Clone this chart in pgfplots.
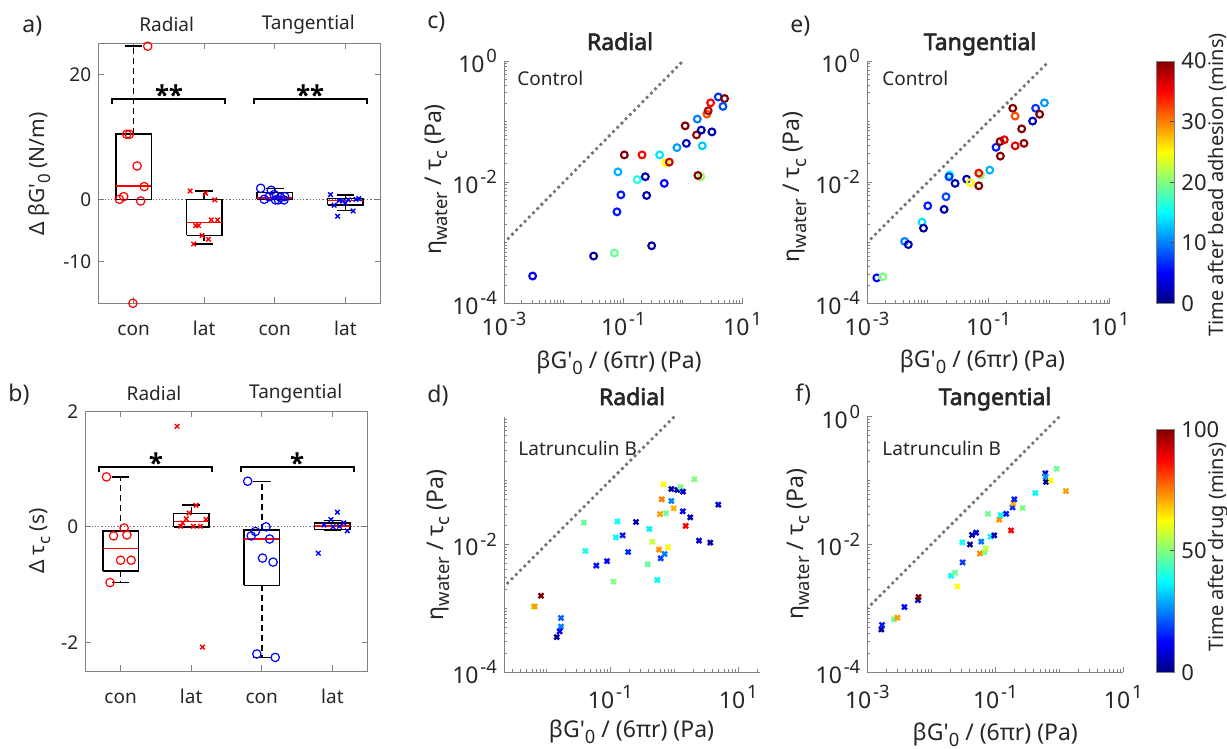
\documentclass[border=0pt]{standalone}
\usepackage{pgfplots}
\pgfplotsset{compat=1.18}
\usepackage{pgfplotstable}
\usepackage{fontspec}
\setmainfont{Noto Sans}[BoldFont={Noto Sans}, BoldFeatures={FakeBold=2.5}]
\newcommand{\fs}[1]{\fontsize{#1}{#1}\selectfont}
\newcommand{\sub}[1]{\raisebox{-0.5ex}{\scalebox{0.8}{#1}}}
\newcommand{\sps}[1]{\hspace{0.08em}\raisebox{0.8ex}{\scalebox{0.8}{#1}}}
\definecolor{axgray}{RGB}{130,130,130}
\definecolor{txt}{RGB}{38,38,38}
\definecolor{pblue}{RGB}{0,0,255}
\definecolor{pred}{RGB}{255,0,0}

\newcommand{\bxbox}[5]{%
 \addplot[black, line width=0.7pt, line join=miter] coordinates {(#1,#3) (#2,#3) (#2,#5) (#1,#5) (#1,#3)};
 \addplot[pred, line width=0.7pt] coordinates {(#1,#4) (#2,#4)};}
\newcommand{\bxwh}[5]{%
 \addplot[black, line width=0.7pt, dash pattern=on 3pt off 2pt] coordinates {(#1,#4) (#1,#5)};
 \addplot[black, line width=0.7pt] coordinates {(#2,#5) (#3,#5)};}

\pgfplotsset{
  boxax/.style={scale only axis, anchor=south west, width=141.2pt, height=130pt,
    xmin=0.5, xmax=4.5, xtick={1,2,3,4}, xticklabels={con,lat,con,lat},
    axis line style={axgray, line width=0.5pt},
    tick style={axgray, line width=0.5pt}, major tick length=3pt, tick align=inside,
    ticklabel style={font=\fs{9.5}, text=txt},
    xticklabel style={anchor=base, yshift=-16pt},
    ylabel style={font=\fs{10.5}, text=txt, anchor=base},
    clip=false},
  logax/.style={scale only axis, anchor=south west,
    axis lines*=left, axis line style={axgray, line width=0.5pt},
    tick style={axgray, line width=0.5pt}, major tick length=2.5pt, minor tick length=1.5pt, tick align=inside,
    ticklabel style={font=\fs{11.5}, text=txt},
    xticklabel style={anchor=base, yshift=-15.85pt},
    xlabel style={font=\fs{11.5}, text=txt, anchor=base},
    ylabel style={font=\fs{11.5}, text=txt, anchor=base},
    xlabel={βG\textquotesingle\sub{0} / (6πr) (Pa)},
    ylabel={η\sub{water} / τ\sub{c} (Pa)},
    colormap/jet,
    xtick={0.001,0.1,10}, xticklabels={10\sps{-3},10\sps{-1},10\sps{1}},
    ytick={0.0001,0.01,1}, yticklabels={10\sps{-4},10\sps{-2},10\sps{0}},
    minor ytick={0.0002,0.0003,0.0004,0.0005,0.0006,0.0007,0.0008,0.0009,0.001,0.002,0.003,0.004,0.005,0.006,0.007,0.008,0.009,0.02,0.03,0.04,0.05,0.06,0.07,0.08,0.09,0.1,0.2,0.3,0.4,0.5,0.6,0.7,0.8,0.9},
    ymin=0.0001, ymax=1},
  minorx/.style={minor xtick={0.002,0.003,0.004,0.005,0.006,0.007,0.008,0.009,0.01,0.02,0.03,0.04,0.05,0.06,0.07,0.08,0.09,0.2,0.3,0.4,0.5,0.6,0.7,0.8,0.9,1,2,3,4,5,6,7,8,9}},
  idline/.style={black!55, line width=1.9pt, line cap=round, dash pattern=on 0pt off 3pt},
  scatc/.style={scatter, only marks, mark=o, mark size=1.7pt, line width=1.05pt, point meta=explicit, scatter/use mapped color={draw=mapped color}},
  scatx/.style={scatter, only marks, mark=x, mark size=1.7pt, line width=1.2pt, point meta=explicit, scatter/use mapped color={draw=mapped color}},
  rc/.style={only marks, mark=o, mark size=2.1pt, line width=0.6pt, draw=pred},
  rx/.style={only marks, mark=x, mark size=1.6pt, line width=0.7pt, draw=pred},
  bc/.style={only marks, mark=o, mark size=2.1pt, line width=0.6pt, draw=pblue},
  bxm/.style={only marks, mark=x, mark size=1.6pt, line width=0.7pt, draw=pblue},
}

\pgfplotstableread{
x y c
0.00302 0.000282 5
0.0318 0.000603 1
0.0708 0.000676 19
0.299 0.000891 1
0.0783 0.00324 6
0.0912 0.00617 6
0.246 0.00603 2
0.0813 0.0148 12
0.172 0.0110 16
0.234 0.0123 2
0.486 0.00955 5
0.104 0.0282 40
0.206 0.0282 35
0.406 0.0282 14
0.513 0.0209 25
0.590 0.0214 37
0.794 0.0372 11
1.14 0.0437 3
1.09 0.0851 40
1.74 0.110 10
1.69 0.0603 39
2.03 0.0724 2
3.06 0.0676 2
2.11 0.0398 13
2.00 0.0123 21
1.78 0.0129 40
2.52 0.133 32
2.65 0.151 38
2.91 0.204 35
3.91 0.255 7
4.99 0.240 40
4.68 0.178 8
}\datac

\pgfplotstableread{
x y c
0.00631 0.00107 55
0.00659 0.00107 72
0.00828 0.00158 100
0.0170 0.000708 22
0.0170 0.000519 25
0.0162 0.000437 12
0.0146 0.000355 3
0.0385 0.0220 47
0.0408 0.00794 40
0.0607 0.00468 14
0.0891 0.00550 12
0.112 0.00263 50
0.122 0.0129 37
0.129 0.0229 38
0.156 0.0139 15
0.190 0.00764 17
0.253 0.0225 5
0.385 0.00490 47
0.408 0.0175 36
0.455 0.0110 57
0.545 0.00279 37
0.578 0.00832 73
0.614 0.00608 18
0.708 0.00710 25
0.600 0.0300 72
0.637 0.0509 75
0.676 0.0873 63
0.743 0.0308 48
0.800 0.00904 63
0.902 0.0480 25
0.902 0.0738 4
0.979 0.0368 70
1.12 0.0713 5
1.26 0.0794 50
1.37 0.0671 8
1.36 0.0331 12
1.78 0.0266 5
1.51 0.0195 88
2.06 0.105 50
2.44 0.0115 8
3.66 0.0107 3
4.89 0.0420 7
}\datad

\pgfplotstableread{
x y c
0.00145 0.000263 5
0.00182 0.000275 20
0.00417 0.00105 10
0.00479 0.000933 2
0.00804 0.00219 14
0.00851 0.00174 1
0.0100 0.00407 6
0.0186 0.00355 2
0.0200 0.00575 8
0.0229 0.0132 15
0.0224 0.0123 7
0.0282 0.00955 2
0.0437 0.0112 2
0.0501 0.00977 25
0.0741 0.0132 20
0.0692 0.0141 35
0.0692 0.00871 40
0.105 0.0158 12
0.133 0.0376 6
0.155 0.0468 40
0.182 0.0501 36
0.157 0.0269 40
0.251 0.166 40
0.275 0.123 32
0.275 0.0398 36
0.352 0.0759 40
0.384 0.0437 39
0.533 0.102 3
0.597 0.166 7
0.695 0.132 40
0.832 0.204 11
}\datae

\pgfplotstableread{
x y c
0.00166 0.000468 3
0.00170 0.000550 15
0.00261 0.000676 48
0.00295 0.000716 72
0.00380 0.00105 12
0.00617 0.00135 5
0.00631 0.00151 100
0.0204 0.00324 38
0.0234 0.00363 48
0.0255 0.00221 62
0.0309 0.00525 18
0.0305 0.0108 38
0.0402 0.0100 3
0.0432 0.0141 4
0.0501 0.0153 10
0.0603 0.0111 24
0.0575 0.00724 74
0.0681 0.00764 50
0.0708 0.00871 57
0.0845 0.0133 36
0.0964 0.0139 5
0.0767 0.0302 48
0.115 0.0245 73
0.121 0.0288 37
0.148 0.0302 15
0.176 0.0166 88
0.186 0.0380 17
0.191 0.0441 70
0.198 0.0509 15
0.267 0.0372 50
0.422 0.0640 37
0.604 0.130 8
0.611 0.115 28
0.619 0.0955 2
0.733 0.100 62
0.908 0.153 48
1.27 0.0687 72
}\dataf

\begin{document}
\begin{tikzpicture}
\path[use as bounding box] (0pt,0pt) rectangle (613.5pt,-374.5pt);

% ---------- a ----------
\begin{axis}[boxax, at={(49.15pt,-151.65pt)}, ymin=-16.64, ymax=24.96,
  ytick={-10,0,20}, yticklabels={-10,0,20},
  ylabel={Δ βG\textquotesingle\sub{0} (N/m)},
  ylabel style={at={(axis description cs:-0.189,0.497)}}]
\addplot[axgray!80!black, densely dotted, line width=0.6pt] coordinates {(0.5,0) (4.5,0)};
\bxbox{0.75}{1.25}{0}{2.13}{10.45}
\bxwh{1}{0.875}{1.125}{10.45}{24.5}
\bxwh{1}{0.875}{1.125}{0}{0}
\bxbox{1.75}{2.25}{-5.76}{-3.68}{0}
\bxwh{2}{1.875}{2.125}{0}{1.33}
\bxwh{2}{1.875}{2.125}{-5.76}{-7.15}
\bxbox{2.75}{3.25}{0}{0.2}{1.12}
\bxwh{3}{2.875}{3.125}{1.12}{1.7}
\bxbox{3.75}{4.25}{-0.9}{-0.2}{0.1}
\bxwh{4}{3.875}{4.125}{0.1}{0.7}
\bxwh{4}{3.875}{4.125}{-0.9}{-1.8}
\addplot[rc] coordinates {(1.2,24.5) (0.902,10.4) (0.94,10.4) (1.05,5.33) (1.15,2.03) (0.8,0) (0.86,0.43) (1.10,-0.27) (0.99,-16.64)};
\addplot[rx] coordinates {(1.80,1.33) (2.02,0.96) (2.15,-0.1) (1.88,-4.2) (1.92,-4.2) (2.10,-3.3) (2.19,-3.3) (1.97,-5.8) (2.06,-6.4) (1.85,-7.15)};
\addplot[bc] coordinates {(2.80,1.76) (2.95,1.44) (2.85,0) (2.92,0.4) (3.01,-0.1) (3.08,0.3) (3.14,0.43) (2.99,0.75) (3.13,-0.1) (3.05,-0.1)};
\addplot[bxm] coordinates {(3.79,0.75) (3.84,-0.95) (3.89,-2.7) (3.91,-0.2) (4.0,-0.6) (4.11,-1.87) (4.15,0) (4.19,0.1) (3.96,-0.3) (4.04,-0.1)};
\addplot[black, line width=1pt] coordinates {(0.7,15.25) (0.7,16) (2.3,16) (2.3,15.25)};
\addplot[black, line width=1pt] coordinates {(2.7,15.25) (2.7,16) (4.3,16) (4.3,15.25)};
\node[font=\bfseries\fs{12.5}, anchor=north, inner sep=0pt] at (axis cs:1.5,18.4) {**};
\node[font=\bfseries\fs{12.5}, anchor=north, inner sep=0pt] at (axis cs:3.5,18.4) {**};
\end{axis}

% ---------- b ----------
\begin{axis}[boxax, at={(42.65pt,-335.65pt)}, ymin=-2.5, ymax=2,
  ytick={-2,0,2}, yticklabels={-2,0,2},
  ylabel={Δ τ\sub{c} (s)},
  ylabel style={at={(axis description cs:-0.143,0.5)}}]
\addplot[axgray!80!black, densely dotted, line width=0.6pt] coordinates {(0.5,0) (4.5,0)};
\bxbox{0.75}{1.25}{-0.767}{-0.37}{-0.075}
\bxwh{1}{0.875}{1.125}{-0.075}{0.865}
\bxwh{1}{0.875}{1.125}{-0.767}{-0.963}
\bxbox{1.75}{2.25}{0}{0.098}{0.236}
\bxwh{2}{1.875}{2.125}{0.236}{0.375}
\bxbox{2.75}{3.25}{-1.01}{-0.21}{-0.052}
\bxwh{3}{2.875}{3.125}{-0.052}{0.79}
\bxwh{3}{2.875}{3.125}{-1.01}{-2.26}
\bxbox{3.75}{4.25}{-0.046}{0.017}{0.07}
\bxwh{4}{3.875}{4.125}{0.07}{0.115}
\bxwh{4}{3.875}{4.125}{-0.046}{-0.06}
\addplot[rc] coordinates {(0.80,0.865) (1.05,-0.02) (0.90,-0.156) (1.09,-0.14) (1.0,-0.577) (1.15,-0.577) (0.85,-0.963)};
\addplot[rx] coordinates {(1.80,1.74) (2.16,-2.08) (2.07,0.375) (1.97,0.24) (1.93,0.14) (1.88,0.07) (1.85,0.01) (2.03,0.01) (2.13,0.01) (2.21,0.13)};
\addplot[bc] coordinates {(2.80,0.79) (3.06,0) (2.91,-0.08) (2.85,-0.156) (3.11,-0.21) (3.01,-0.54) (3.16,-0.61) (2.93,-2.2) (3.19,-2.26)};
\addplot[bxm] coordinates {(3.80,-0.456) (4.07,0.254) (3.98,0.127) (4.21,-0.07) (4.16,0.07) (4.10,0.01) (3.88,0.03) (4.01,0)};
\addplot[black, line width=1pt] coordinates {(0.7,0.95) (0.7,1.04) (2.3,1.04) (2.3,0.95)};
\addplot[black, line width=1pt] coordinates {(2.7,0.95) (2.7,1.04) (4.3,1.04) (4.3,0.95)};
\node[font=\bfseries\fs{12.5}, anchor=north, inner sep=0pt] at (axis cs:1.5,1.29) {*};
\node[font=\bfseries\fs{12.5}, anchor=north, inner sep=0pt] at (axis cs:3.5,1.29) {*};
\end{axis}

% ---------- c ----------
\begin{loglogaxis}[logax, minorx, at={(252pt,-151.65pt)}, width=119.3pt, height=121.15pt,
  xmin=0.001, xmax=10, point meta min=0, point meta max=40,
  xlabel style={at={(axis description cs:0.482,-0.268)}},
  ylabel style={at={(axis description cs:-0.261,0.511)}}]
\addplot[idline] coordinates {(0.001,0.001) (1,1)};
\addplot[scatc] table[x=x, y=y, meta=c] {\datac};
\end{loglogaxis}

% ---------- d ----------
\begin{loglogaxis}[logax, at={(252pt,-336.15pt)}, width=128pt, height=127.8pt,
  xmin=0.002188, xmax=21.88, point meta min=0, point meta max=100,
  ytick={0.0001,0.01}, yticklabels={10\sps{-4},10\sps{-2}},
  xtick={0.1,10}, xticklabels={10\sps{-1},10\sps{1}},
  minor xtick={0.003,0.004,0.005,0.006,0.007,0.008,0.009,0.01,0.02,0.03,0.04,0.05,0.06,0.07,0.08,0.09,0.2,0.3,0.4,0.5,0.6,0.7,0.8,0.9,1,2,3,4,5,6,7,8,9,20},
  xticklabel style={yshift=-2.15pt},
  xlabel style={at={(axis description cs:0.498,-0.256)}},
  ylabel style={at={(axis description cs:-0.237,0.498)}}]
\addplot[idline] coordinates {(0.001,0.001) (1,1)};
\addplot[scatx] table[x=x, y=y, meta=c] {\datad};
\end{loglogaxis}

% ---------- e ----------
\begin{loglogaxis}[logax, minorx, at={(433.5pt,-151.65pt)}, width=121.5pt, height=121.15pt,
  xmin=0.001, xmax=10, point meta min=0, point meta max=40,
  xlabel style={at={(axis description cs:0.475,-0.264)}},
  ylabel style={at={(axis description cs:-0.276,0.48)}},
  colorbar,
  colorbar style={at={(parent axis.south east)}, anchor=south west, xshift=14.5pt,
    scale only axis, width=9.15pt, height=121.15pt,
    ytick={0,10,20,30,40}, yticklabels={0,10,20,30,40}, ytick pos=right,
    yticklabel style={font=\fs{11}, text=txt},
    axis line style={axgray, line width=0.5pt}, tick style={black!70, line width=0.4pt},
    major tick length=2pt, tick align=inside}]
\addplot[idline] coordinates {(0.001,0.001) (1,1)};
\addplot[scatc] table[x=x, y=y, meta=c] {\datae};
\end{loglogaxis}

% ---------- f ----------
\begin{loglogaxis}[logax, minorx, at={(433.65pt,-336.15pt)}, width=128pt, height=127.8pt,
  xmin=0.001, xmax=10, point meta min=0, point meta max=100,
  xticklabel style={yshift=-2.15pt},
  xlabel style={at={(axis description cs:0.5,-0.265)}},
  ylabel style={at={(axis description cs:-0.25,0.501)}},
  colorbar,
  colorbar style={at={(parent axis.south east)}, anchor=south west, xshift=7.85pt,
    scale only axis, width=9.15pt, height=121.5pt,
    ytick={0,50,100}, yticklabels={0,50,100}, ytick pos=right,
    yticklabel style={font=\fs{11}, text=txt},
    axis line style={axgray, line width=0.5pt}, tick style={black!70, line width=0.4pt},
    major tick length=2pt, tick align=inside}]
\addplot[idline] coordinates {(0.001,0.001) (1,1)};
\addplot[scatx] table[x=x, y=y, meta=c] {\dataf};
\end{loglogaxis}

% ---------- texts ----------
\begin{scope}[every node/.style={text=txt, inner sep=0pt}]
\node[font=\fs{11.5}, anchor=base west] at (11pt,-16.5pt) {a)};
\node[font=\fs{11.5}, anchor=base west] at (4pt,-200.85pt) {b)};
\node[font=\fs{11.5}, anchor=base west] at (213.5pt,-14.15pt) {c)};
\node[font=\fs{11.5}, anchor=base west] at (213.5pt,-201.35pt) {d)};
\node[font=\fs{11.5}, anchor=base west] at (395pt,-16.35pt) {e)};
\node[font=\fs{11.5}, anchor=base west] at (397.5pt,-200.85pt) {f)};
\node[font=\fs{9.5}, anchor=base] at (83.35pt,-15.85pt) {Radial};
\node[font=\fs{9.5}, anchor=base] at (154.15pt,-15pt) {Tangential};
\node[font=\fs{9.5}, anchor=base] at (77pt,-200pt) {Radial};
\node[font=\fs{9.5}, anchor=base] at (147.85pt,-199.15pt) {Tangential};
\node[font=\bfseries\fs{11.5}, anchor=base] at (310pt,-25pt) {Radial};
\node[font=\bfseries\fs{11.5}, anchor=base] at (316pt,-202.5pt) {Radial};
\node[font=\bfseries\fs{11.5}, anchor=base] at (490pt,-25pt) {Tangential};
\node[font=\bfseries\fs{11.5}, anchor=base] at (497.5pt,-202.5pt) {Tangential};
\node[font=\fs{9.5}, anchor=base west] at (258.5pt,-43pt) {Control};
\node[font=\fs{9.5}, anchor=base west] at (441pt,-43pt) {Control};
\node[font=\fs{9.5}, anchor=base west] at (259pt,-227.5pt) {Latrunculin B};
\node[font=\fs{9.5}, anchor=base west] at (441pt,-227.5pt) {Latrunculin B};
\node[font=\fs{10}, anchor=base, rotate=90] at (611.5pt,-92.5pt) {Time after bead adhesion (mins)};
\node[font=\fs{10}, anchor=base, rotate=90] at (611.5pt,-273.5pt) {Time after drug (mins)};
\end{scope}
\end{tikzpicture}
\end{document}
